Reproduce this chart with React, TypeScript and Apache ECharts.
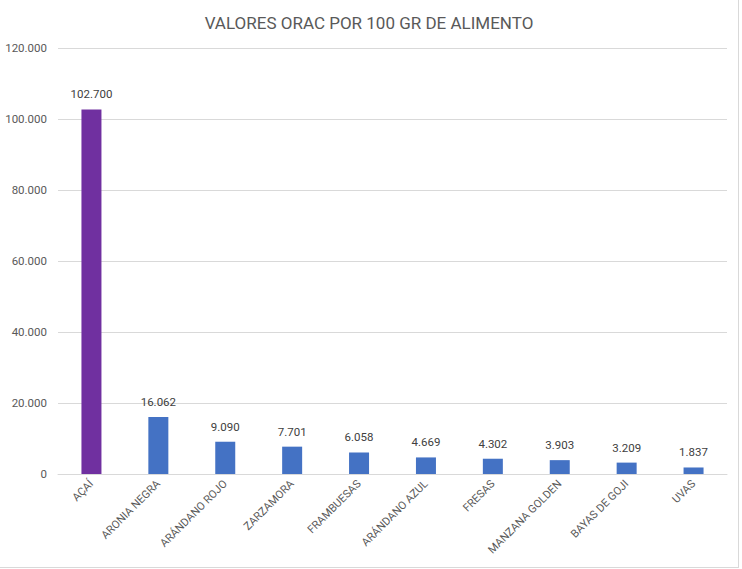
import React, { useEffect, useRef } from "react";
import * as echarts from "echarts";

const categories = [
  "AÇAÍ",
  "ARONIA NEGRA",
  "ARÁNDANO ROJO",
  "ZARZAMORA",
  "FRAMBUESAS",
  "ARÁNDANO AZUL",
  "FRESAS",
  "MANZANA GOLDEN",
  "BAYAS DE GOJI",
  "UVAS",
];
const values = [102700, 16062, 9090, 7701, 6058, 4669, 4302, 3903, 3209, 1837];
const barColors = ["#7030A0", "#4472C4", "#4472C4", "#4472C4", "#4472C4", "#4472C4", "#4472C4", "#4472C4", "#4472C4", "#4472C4"];
const titleText = "VALORES ORAC POR 100 GR DE ALIMENTO";

const fmt = (v: number) => String(Math.round(v)).replace(/\B(?=(\d{3})+(?!\d))/g, ".");
const FONT = "Roboto, 'Open Sans', sans-serif";

export default function App() {
  const ref = useRef<HTMLDivElement>(null);
  useEffect(() => {
    if (!ref.current) return;
    const chart = echarts.init(ref.current, undefined, { renderer: "svg" });
    chart.setOption({
      animation: false,
      backgroundColor: "#ffffff",
      title: {
        text: titleText,
        left: "center",
        top: 9,
        textStyle: { color: "#595959", fontSize: 17, fontWeight: "normal", fontFamily: FONT },
      },
      grid: { left: 58, right: 11, top: 48, bottom: 93, containLabel: false },
      xAxis: {
        type: "category",
        data: categories,
        axisLine: { lineStyle: { color: "#d9d9d9" } },
        axisTick: { show: false },
        axisLabel: { rotate: 45, color: "#595959", fontSize: 11, fontFamily: FONT, margin: 8, interval: 0 },
      },
      yAxis: {
        type: "value",
        min: 0,
        max: 120000,
        interval: 20000,
        axisLine: { show: false },
        axisTick: { show: false },
        splitLine: { lineStyle: { color: "#d9d9d9" } },
        axisLabel: { color: "#595959", fontSize: 11.5, fontFamily: FONT, margin: 11, formatter: (v: number) => fmt(v) },
      },
      series: [
        {
          type: "bar",
          barWidth: 20,
          data: values.map((v, i) => ({ value: v, itemStyle: { color: barColors[i] } })),
          label: {
            show: true,
            position: "top",
            distance: 9,
            color: "#404040",
            fontSize: 11.5,
            fontFamily: FONT,
            formatter: (p: any) => fmt(p.value),
          },
        },
      ],
    });
    return () => chart.dispose();
  }, []);
  return (
    <div style={{ position: "absolute", left: 0, top: 0, width: 742, height: 569, background: "#fff" }}>
      <div
        ref={ref}
        style={{ width: 738, height: 567, borderRight: "1px solid #d9d9d9", borderBottom: "1px solid #d9d9d9" }}
      />
    </div>
  );
}
